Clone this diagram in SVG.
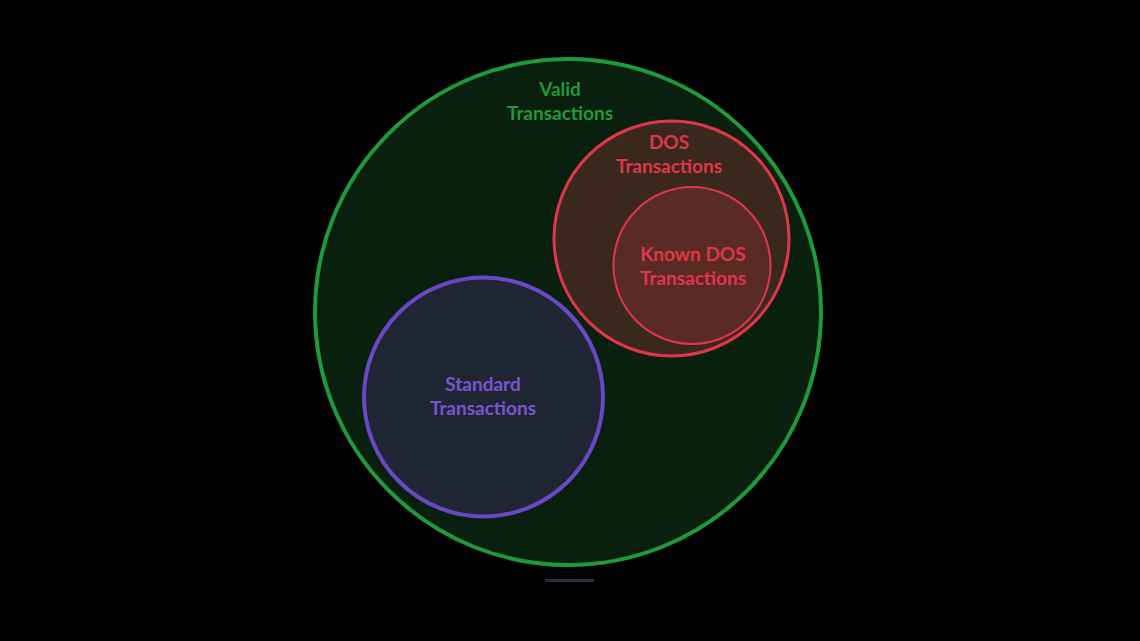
<svg xmlns="http://www.w3.org/2000/svg" width="1140" height="641" viewBox="0 0 1140 641">
<style>
text{font-family:Lato,"Noto Sans",sans-serif;font-weight:bold;font-size:19px;text-anchor:middle}
</style>
<rect width="1140" height="641" fill="#000"/>
<g id="valid">
<circle cx="568" cy="312" r="253" fill="#0a200f" stroke="#1f9a3a" stroke-width="4"/>
<text x="560" y="96" fill="#1f9a3a">Valid</text>
<text x="560" y="120" fill="#1f9a3a">Transactions</text>
</g>
<g id="standard">
<circle cx="483.5" cy="397" r="119.5" fill="#1f2533" stroke="#6a47c4" stroke-width="4"/>
<text x="483" y="391" fill="#7a55d0">Standard</text>
<text x="483" y="415" fill="#7a55d0">Transactions</text>
</g>
<g id="dos">
<circle cx="671.5" cy="238.5" r="117.5" fill="#3a281c" stroke="#e0364a" stroke-width="3"/>
<text x="669" y="149" fill="#e0364a">DOS</text>
<text x="669" y="173" fill="#e0364a">Transactions</text>
</g>
<g id="known">
<circle cx="692" cy="265.5" r="78.5" fill="#5a2a24" stroke="#e0364a" stroke-width="2"/>
<text x="693" y="261" fill="#e0364a">Known DOS</text>
<text x="693" y="285" fill="#e0364a">Transactions</text>
</g>
<g id="connectors"></g>
<rect x="545" y="579" width="49" height="3" fill="#2e2a48"/>
</svg>
